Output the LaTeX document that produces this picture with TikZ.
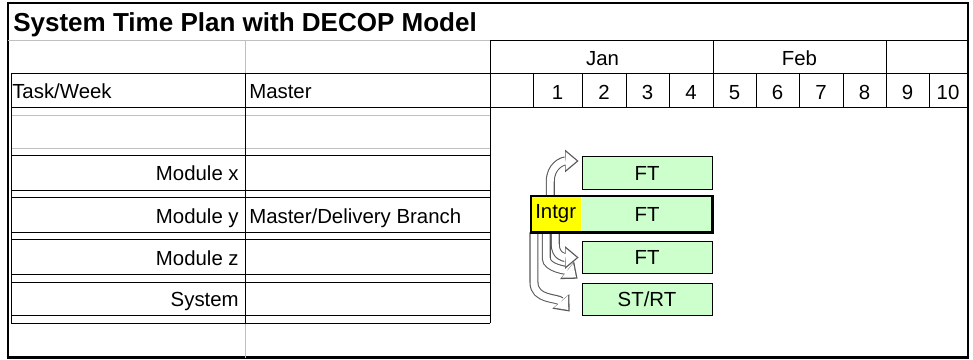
\documentclass[tikz,border=0pt]{standalone}
\usepackage{fontspec}
\setmainfont{Liberation Sans}
\usetikzlibrary{arrows.meta, positioning}
\definecolor{barGreen}{HTML}{CCFFCC}
\definecolor{gridGray}{HTML}{C0C0C0}
\definecolor{intgrYellow}{HTML}{FFFF00}

\begin{document}
\begin{tikzpicture}[x=0.025cm, y=-0.025cm,
    cell/.style={font=\fontsize{14.5}{17}\selectfont, inner sep=0pt},
    grid/.style={gridGray, line width=0.6pt},
    rule/.style={black, line width=0.7pt},
    bar/.style={cell, draw, line width=0.6pt, fill=barGreen, minimum width=3.25cm, minimum height=0.82cm},
    intgrbox/.style={cell, fill=intgrYellow, minimum width=1.25cm, minimum height=0.9cm, text width=1.05cm, align=left},
    blockarrow/.style={white, line width=4.9pt, shorten >=1.4pt,
        -{Triangle[length=7.8pt, width=13pt, line width=0pt]},
        preaction={draw=black!65, line width=6.4pt, shorten >=0pt,
            -{Triangle[length=9.5pt, width=16pt, line width=0pt]}}}
]
    \useasboundingbox (0,0) rectangle (973,360);

    % frame and title
    \draw[line width=0.9pt] (8,3) rectangle (968,358);
    \draw[line width=1.6pt] (8,357) -- (968,357);
    \node[anchor=base west, inner sep=0pt, font=\fontsize{18.5}{22}\selectfont\bfseries] (title) at (13,32) {System Time Plan with DECOP Model};

    % left table
    \draw[grid] (8,40) -- (490,40);
    \draw[grid] (245,40) -- (245,73);
    \draw[grid] (245,323) -- (245,358);
    \foreach \y in {115,148}
        \draw[grid] (11,\y) -- (490,\y);
    \foreach \y in {73,107,155,190,197,232,239,274,282,315,323}
        \draw[rule] (11,\y) -- (490,\y);
    \draw[rule] (11,73) -- (11,323);
    \draw[rule] (245,73) -- (245,323);
    \draw[rule] (490,40) -- (490,323);

    % weeks and months
    \foreach \y in {40,73,107}
        \draw[rule] (490,\y) -- (968,\y);
    \foreach \x in {713,886}
        \draw[rule] (\x,40) -- (\x,107);
    \foreach \x in {533,582,626,669,756,799,843,929}
        \draw[rule] (\x,73) -- (\x,107);
    \node[cell, anchor=base] (jan) at (602.5,66) {Jan};
    \node[cell, anchor=base] (feb) at (799.5,66) {Feb};
    \foreach \n/\x in {1/557.5,2/604,3/647.5,4/691,5/734.5,6/777.5,7/821,8/864.5,9/907.5,10/948}
        \node[cell, anchor=base] (w\n) at (\x,100) {\n};

    % row labels
    \node[cell, anchor=base west] (hdrtask) at (12,99) {Task/Week};
    \node[cell, anchor=base west] (hdrmaster) at (249,99) {Master};
    \foreach \name/\yb [count=\i] in {Module x/181, Module y/223, Module z/265, System/306}
        \node[cell, anchor=base east] (task\i) at (239,\yb) {\name};
    \node[cell, anchor=base west] (branch) at (249,223) {Master/Delivery Branch};

    % bars
    \node[bar] (ftx) at (647,173) {FT};
    \node[bar, draw=none, minimum height=0.9cm] (fty) at (647,214) {FT};
    \node[intgrbox, left=0pt of fty] (intgr) {Intgr};
    \node[bar] (ftz) at (647,257.5) {FT};
    \node[bar] (strt) at (647,299.5) {ST/RT};

    % integration arrows
    \draw[blockarrow] ([shift={(-6,0)}]intgr.north) -- ++(0,-14)
        .. controls +(0,-16) and +(-16,0) .. ([shift={(-3,-12)}]ftx.west);
    \draw[blockarrow] ([shift={(3,0)}]intgr.south west) -- ++(0,50)
        .. controls +(0,18) and +(-12,-14) .. ([shift={(-12,12)}]strt.west);
    \draw[blockarrow] ([shift={(-10,0)}]intgr.south) -- ++(0,26)
        .. controls +(0,10) and +(-10,-8) .. ([shift={(-4,-4)}]strt.north west);
    \draw[blockarrow] ([shift={(-1,0)}]intgr.south) -- ++(0,12)
        .. controls +(0,12) and +(-14,0) .. ([shift={(-3,0)}]ftz.west);

    \draw[line width=1.6pt] (intgr.north west) rectangle (fty.south east);
\end{tikzpicture}
\end{document}
